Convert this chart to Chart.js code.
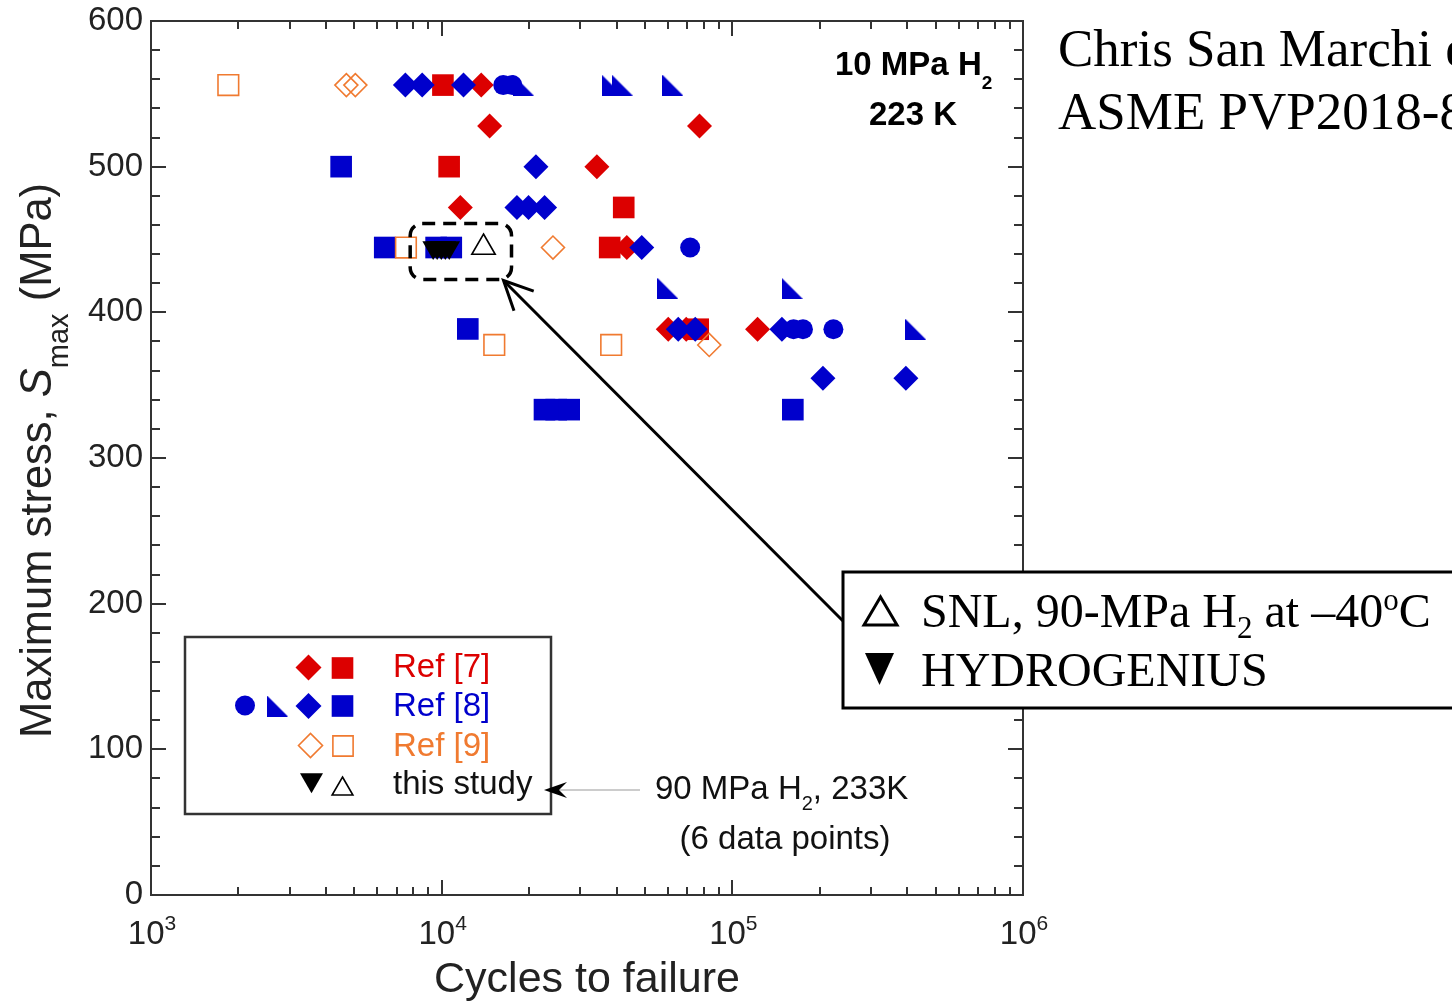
<!DOCTYPE html>
<html><head><meta charset="utf-8">
<script src="https://cdn.jsdelivr.net/npm/chart.js@4/dist/chart.umd.min.js"></script>
<style>html,body{margin:0;padding:0;background:#fff;overflow:hidden}#wrap{width:1452px;height:1006px;position:relative}</style>
</head><body><div id="wrap"><canvas id="c" width="1452" height="1006"></canvas></div>
<script>
const SANS = '"Liberation Sans", Arial, Helvetica, sans-serif';
const SERIF = '"Liberation Serif", "Times New Roman", serif';
const RED = '#dc0000', BLUE = '#0000cc', ORANGE = '#f07a30', INK = '#222';

// ---- axis ticks ----
const xTickValues = [1e3, 1e4, 1e5, 1e6];
const xTickBase = ['10', '10', '10', '10'];
const xTickExponents = ['3', '4', '5', '6'];
const yTickValues = [0, 100, 200, 300, 400, 500, 600];

// ---- data (cycles to failure, max stress MPa) ----
const ref7DiamondX = [13680, 14620, 77100, 34200, 11590, 43350, 60200, 69400, 122100];
const ref7DiamondY = [556, 528, 528, 500, 472, 444.5, 388.4, 388.4, 388.4];
const ref7SquareX = [10100, 10610, 42300, 37850, 76300];
const ref7SquareY = [556, 500, 472, 444.5, 388.4];

const ref8CircleX = [16290, 17500, 71600, 162400, 175000, 222700];
const ref8CircleY = [556, 556, 444.5, 388.4, 388.4, 388.4];
const ref8TriangleX = [19100, 38600, 41800, 62400, 60000, 160600, 427400];
const ref8TriangleY = [556, 556, 556, 556, 416.5, 416.5, 388.4];
const ref8DiamondX = [7500, 8570, 11890, 21100, 18150, 19900, 22600, 48800, 65160, 74530, 148100, 205000, 395500];
const ref8DiamondY = [556, 556, 556, 500, 472, 472, 472, 444.5, 388.4, 388.4, 388.4, 354.8, 354.8];
const ref8SquareX = [4510, 6370, 9570, 10790, 12300, 22580, 24770, 27460, 161500];
const ref8SquareY = [500, 444.5, 444.5, 444.5, 388.6, 333.2, 333.2, 333.2, 333.2];

const ref9DiamondX = [4700, 5047, 24150, 83280];
const ref9DiamondY = [556, 556, 444.5, 377.6];
const ref9SquareX = [1845, 7535, 15170, 38300];
const ref9SquareY = [556, 444.5, 377.6, 377.6];

const hydrogeniusX = [9350, 9650, 9970, 10290, 10620];
const hydrogeniusY = [444.5, 444.5, 444.5, 444.5, 444.5];
const snlX = [13930];
const snlY = [444.5];

function pts(xs, ys) { return xs.map((x, i) => ({ x: x, y: ys[i] })); }

function rightTri(color, size) {
  const cv = document.createElement('canvas');
  cv.width = size; cv.height = size;
  const g = cv.getContext('2d');
  g.fillStyle = color; g.beginPath();
  g.moveTo(0, 0); g.lineTo(0, size); g.lineTo(size, size); g.closePath(); g.fill();
  return cv;
}
const blueTri = rightTri(BLUE, 21);

function solid(label, xs, ys, color, style, r, extra) {
  return Object.assign({ label: label, data: pts(xs, ys), pointStyle: style, pointRadius: r,
    backgroundColor: color, borderColor: color, borderWidth: 0, showLine: false }, extra || {});
}
function open(label, xs, ys, color, style, r, extra) {
  return Object.assign({ label: label, data: pts(xs, ys), pointStyle: style, pointRadius: r,
    backgroundColor: 'rgba(255,255,255,0)', borderColor: color, borderWidth: 1.6, showLine: false }, extra || {});
}

const datasets = [
  solid('HYDROGENIUS', hydrogeniusX, hydrogeniusY, '#000', 'triangle', 12.5, { rotation: 180 }),
  open('SNL', snlX, snlY, '#000', 'triangle', 13.5),
  open('Ref [9] square', ref9SquareX, ref9SquareY, ORANGE, 'rect', 14.6),
  open('Ref [9] diamond', ref9DiamondX, ref9DiamondY, ORANGE, 'rectRot', 11.5),
  solid('Ref [8] circle', ref8CircleX, ref8CircleY, BLUE, 'circle', 10),
  solid('Ref [8] triangle', ref8TriangleX, ref8TriangleY, BLUE, blueTri, 10),
  solid('Ref [8] diamond', ref8DiamondX, ref8DiamondY, BLUE, 'rectRot', 12.5),
  solid('Ref [8] square', ref8SquareX, ref8SquareY, BLUE, 'rect', 15.3),
  solid('Ref [7] diamond', ref7DiamondX, ref7DiamondY, RED, 'rectRot', 12.5),
  solid('Ref [7] square', ref7SquareX, ref7SquareY, RED, 'rect', 15.3)
];

function marker(ctx, kind, x, y, color, r) {
  ctx.save();
  ctx.beginPath();
  ctx.fillStyle = color; ctx.strokeStyle = color; ctx.lineWidth = 1.6;
  if (kind === 'diamond' || kind === 'odiamond') {
    ctx.moveTo(x - r, y); ctx.lineTo(x, y - r); ctx.lineTo(x + r, y); ctx.lineTo(x, y + r); ctx.closePath();
    kind === 'diamond' ? ctx.fill() : ctx.stroke();
  } else if (kind === 'square' || kind === 'osquare') {
    const s = r * Math.SQRT1_2; ctx.rect(x - s, y - s, 2 * s, 2 * s);
    kind === 'square' ? ctx.fill() : ctx.stroke();
  } else if (kind === 'circle') {
    ctx.arc(x, y, r, 0, Math.PI * 2); ctx.fill();
  } else if (kind === 'rtri') {
    ctx.drawImage(blueTri, x - blueTri.width / 2, y - blueTri.height / 2);
  } else if (kind === 'dtri') {
    ctx.moveTo(x, y + r); ctx.lineTo(x - 0.866 * r, y - 0.5 * r); ctx.lineTo(x + 0.866 * r, y - 0.5 * r); ctx.closePath(); ctx.fill();
  } else if (kind === 'utri') {
    ctx.moveTo(x, y - r); ctx.lineTo(x + 0.866 * r, y + 0.5 * r); ctx.lineTo(x - 0.866 * r, y + 0.5 * r); ctx.closePath(); ctx.stroke();
  }
  ctx.restore();
}

function runs(ctx, x, y, parts, measureOnly) {
  let cx = x;
  for (const p of parts) {
    ctx.font = p[1];
    if (!measureOnly) ctx.fillText(p[0], cx, y + (p[2] || 0));
    cx += ctx.measureText(p[0]).width;
  }
  return cx - x;
}

const decor = {
  id: 'decor',
  afterDraw(chart) {
    const ctx = chart.ctx;
    const a = chart.chartArea;
    const xs = chart.scales.x, ys = chart.scales.y;
    ctx.save();
    // frame
    ctx.strokeStyle = '#333'; ctx.lineWidth = 2;
    ctx.strokeRect(a.left, a.top, a.right - a.left, a.bottom - a.top);
    // y ticks (every 20 MPa), inward on both sides
    for (let v = 0; v <= 600; v += 20) {
      const py = Math.round(ys.getPixelForValue(v));
      const len = v % 100 === 0 ? 15 : 9;
      ctx.beginPath();
      ctx.moveTo(a.left, py); ctx.lineTo(a.left + len, py);
      ctx.moveTo(a.right, py); ctx.lineTo(a.right - len, py);
      ctx.stroke();
    }
    // x ticks (log minor), inward on both sides
    for (let d = 3; d <= 6; d++) {
      for (let m = 1; m <= 9; m++) {
        const v = m * Math.pow(10, d);
        if (v > 1e6) break;
        const px = Math.round(xs.getPixelForValue(v));
        const len = m === 1 ? 15 : 8;
        ctx.beginPath();
        ctx.moveTo(px, a.bottom); ctx.lineTo(px, a.bottom - len);
        ctx.moveTo(px, a.top); ctx.lineTo(px, a.top + len);
        ctx.stroke();
      }
    }
    // x tick labels: 10 with raised exponent
    ctx.fillStyle = INK; ctx.textBaseline = 'alphabetic'; ctx.textAlign = 'left';
    xTickValues.forEach((v, i) => {
      const parts = [[xTickBase[i], '33px ' + SANS, 0], [xTickExponents[i], '21px ' + SANS, -14]];
      const w = runs(ctx, 0, 0, parts, true);
      const px = xs.getPixelForValue(v);
      runs(ctx, px - w / 2 + 1, a.bottom + 49, parts);
    });

    // y axis title
    ctx.save();
    ctx.translate(51, 738); ctx.rotate(-Math.PI / 2);
    ctx.fillStyle = INK; ctx.textBaseline = 'alphabetic'; ctx.textAlign = 'left';
    runs(ctx, 0, 0, [
      ['Maximum stress, ', '43.5px ' + SANS, 0],
      ['S', 'italic 43.5px ' + SANS, 0],
      ['max', '29px ' + SANS, 17],
      [' (MPa)', '43.5px ' + SANS, 0]
    ]);
    ctx.restore();

    // condition label (top right of plot)
    ctx.fillStyle = '#000'; ctx.textAlign = 'left'; ctx.textBaseline = 'alphabetic';
    runs(ctx, 835, 75, [['10 MPa H', 'bold 33px ' + SANS, 0], ['2', 'bold 19px ' + SANS, 14]]);
    ctx.font = 'bold 33px ' + SANS;
    ctx.fillText('223 K', 869, 125);

    // dashed box around this study's points
    const hx0 = xs.getPixelForValue(Math.min.apply(null, hydrogeniusX)) - 23;
    const hx1 = xs.getPixelForValue(snlX[0]) + 28;
    const hy = ys.getPixelForValue(snlY[0]);
    const top = hy - 24, bot = hy + 32;
    ctx.strokeStyle = '#000'; ctx.lineWidth = 3.5; ctx.setLineDash([13, 8]);
    ctx.beginPath(); ctx.roundRect(hx0, top, hx1 - hx0, bot - top, 12); ctx.stroke();
    ctx.setLineDash([]);

    // arrow from annotation box to dashed box
    const tipX = hx1 - 8, tipY = bot + 1;
    const fromX = 843, fromY = 621;
    ctx.lineWidth = 3; ctx.strokeStyle = '#000';
    ctx.beginPath(); ctx.moveTo(fromX, fromY); ctx.lineTo(tipX + 2, tipY + 2); ctx.stroke();
    const ang = Math.atan2(fromY - tipY, fromX - tipX);
    ctx.beginPath();
    ctx.moveTo(tipX + 32 * Math.cos(ang - 0.45), tipY + 32 * Math.sin(ang - 0.45));
    ctx.lineTo(tipX, tipY);
    ctx.lineTo(tipX + 32 * Math.cos(ang + 0.45), tipY + 32 * Math.sin(ang + 0.45));
    ctx.stroke();

    // legend box
    ctx.fillStyle = '#fff'; ctx.fillRect(185, 637, 366, 177);
    ctx.strokeStyle = '#333'; ctx.lineWidth = 2.5; ctx.strokeRect(185, 637, 366, 177);
    marker(ctx, 'diamond', 308.5, 667.5, RED, 13);
    marker(ctx, 'square', 342.5, 668, RED, 15.3);
    marker(ctx, 'circle', 245, 705.5, BLUE, 10);
    marker(ctx, 'rtri', 277.5, 706, BLUE, 10);
    marker(ctx, 'diamond', 308.5, 706, BLUE, 13);
    marker(ctx, 'square', 342.5, 706, BLUE, 15.3);
    marker(ctx, 'odiamond', 310.5, 745.5, ORANGE, 12);
    marker(ctx, 'osquare', 343, 746, ORANGE, 14.3);
    marker(ctx, 'dtri', 311.5, 780, '#000', 13.3);
    marker(ctx, 'utri', 342.5, 789, '#000', 12);
    ctx.font = '33px ' + SANS; ctx.textAlign = 'left'; ctx.textBaseline = 'alphabetic';
    ctx.fillStyle = RED; ctx.fillText('Ref [7]', 393, 677);
    ctx.fillStyle = BLUE; ctx.fillText('Ref [8]', 393, 716);
    ctx.fillStyle = ORANGE; ctx.fillText('Ref [9]', 393, 756);
    ctx.fillStyle = '#111'; ctx.fillText('this study', 393, 794);

    // pointer to "this study"
    ctx.strokeStyle = '#999'; ctx.lineWidth = 1.2;
    ctx.beginPath(); ctx.moveTo(640, 790); ctx.lineTo(556, 790); ctx.stroke();
    ctx.fillStyle = '#000';
    ctx.beginPath(); ctx.moveTo(544, 790); ctx.lineTo(567, 782); ctx.lineTo(559, 790); ctx.lineTo(567, 798); ctx.closePath(); ctx.fill();

    ctx.fillStyle = '#111'; ctx.textAlign = 'left';
    runs(ctx, 655, 799, [['90 MPa H', '33px ' + SANS, 0], ['2', '20px ' + SANS, 11], [', 233K', '33px ' + SANS, 0]]);
    ctx.font = '33px ' + SANS; ctx.textAlign = 'center';
    ctx.fillText('(6 data points)', 785, 849);

    // right annotation box
    ctx.fillStyle = '#fff'; ctx.fillRect(843, 572, 640, 136);
    ctx.strokeStyle = '#000'; ctx.lineWidth = 3; ctx.strokeRect(843, 572, 640, 136);
    ctx.lineWidth = 3; ctx.beginPath();
    ctx.moveTo(864, 625); ctx.lineTo(897, 625); ctx.lineTo(880.5, 597); ctx.closePath(); ctx.stroke();
    ctx.fillStyle = '#000'; ctx.beginPath();
    ctx.moveTo(865, 653); ctx.lineTo(894, 653); ctx.lineTo(879.5, 685); ctx.closePath(); ctx.fill();
    ctx.textAlign = 'left'; ctx.fillStyle = '#000';
    runs(ctx, 921, 627, [
      ['SNL, 90-MPa H', '48px ' + SERIF, 0], ['2', '31px ' + SERIF, 11], [' at \u201340', '48px ' + SERIF, 0],
      ['o', '31px ' + SERIF, -17], ['C', '48px ' + SERIF, 0]
    ]);
    ctx.font = '48px ' + SERIF; ctx.fillText('HYDROGENIUS', 921, 686);

    // citation
    ctx.font = '53px ' + SERIF; ctx.fillStyle = '#000';
    ctx.fillText('Chris San Marchi et al.', 1058, 66);
    ctx.fillText('ASME PVP2018-8', 1058, 129);
    ctx.restore();
  }
};

new Chart(document.getElementById('c'), {
  type: 'scatter',
  data: { datasets: datasets },
  options: {
    responsive: false, animation: false, events: [],
    layout: { padding: { top: 21, right: 429, left: 0, bottom: 0 } },
    plugins: { legend: { display: false }, tooltip: { enabled: false } },
    elements: { point: { hoverRadius: 0 } },
    scales: {
      x: {
        type: 'logarithmic', position: 'bottom', min: 1000, max: 1e6,
        afterFit: function (s) { s.height = 111; s.paddingLeft = 0; s.paddingRight = 0; },
        afterBuildTicks: function (s) { s.ticks = xTickValues.map(v => ({ value: v })); },
        grid: { display: false, drawTicks: false }, border: { display: false },
        ticks: { display: false, autoSkip: false, maxRotation: 0, minRotation: 0 },
        title: { display: true, text: 'Cycles to failure', color: INK, font: { family: SANS, size: 43 }, padding: { top: 0, bottom: 0 } }
      },
      y: {
        type: 'linear', min: 0, max: 600,
        afterFit: function (s) { s.width = 151; s.paddingTop = 0; s.paddingBottom = 0; },
        afterBuildTicks: function (s) { s.ticks = yTickValues.map(v => ({ value: v })); },
        grid: { display: false, drawTicks: false }, border: { display: false },
        ticks: { padding: 8, color: INK, font: { family: SANS, size: 33 } }
      }
    }
  },
  plugins: [decor]
});
</script></body></html>
